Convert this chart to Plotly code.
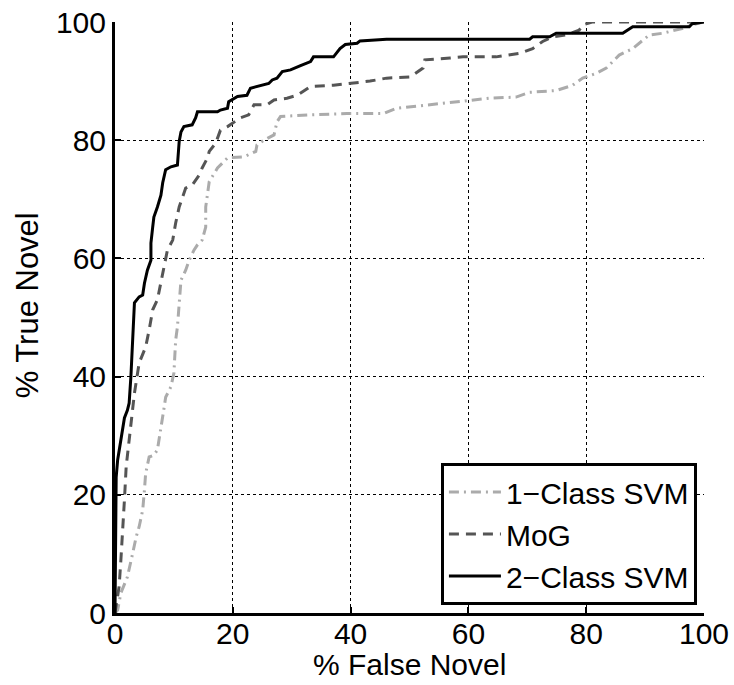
import plotly.graph_objects as go

# 1-Class SVM ROC
svm1_x = [0, 0.45, 1.0, 2.1, 3.0, 3.6, 4.1, 4.7, 5.0, 5.2, 5.8, 6.6, 7.2, 7.8, 8.3, 8.6, 9.5, 10.0, 10.3, 10.6,
          10.9, 11.2, 12.0, 12.6, 13.4, 14.0, 14.8, 15.4, 15.4, 16.0, 17.4, 19.1, 21.9, 23.9, 24.1, 25.3, 27.0, 27.5, 28.1, 33.2,
          39.4, 45.6, 47.8, 52.3, 55.7, 59.1, 63.6, 68.1, 70.4, 74.9, 77.7, 79.4, 81.7, 83.4, 85.6, 87.9, 90.7, 93.0, 96.3, 98.0, 100]
svm1_y = [0, 0.5, 3.4, 6.1, 10.1, 12.9, 14.6, 17.4, 20.8, 23.6, 26.4, 26.7, 27.6, 31, 34.5, 36.5, 38.3, 40.6, 46.2, 48.4,
          52.4, 56.3, 58, 59.7, 61.4, 62.3, 63.1, 65.3, 68.7, 73, 75.3, 77, 77.2, 78.1, 79.2, 80, 80.9, 83.1, 84, 84.3,
          84.5, 84.5, 85.4, 85.9, 86.2, 86.7, 87.1, 87.3, 88.1, 88.4, 89.3, 90.5, 91.3, 92.2, 94.4, 95.5, 97.8, 98.1, 98.9, 99.5, 100]

# MoG ROC
mog_x = [0, 0.7, 1.0, 1.3, 1.6, 1.9, 2.4, 3.0, 3.3, 4.1, 5.2, 5.8, 6.4, 7.2, 7.8, 8.3, 8.9, 9.8, 10.3, 10.9,
         12.0, 13.1, 14.3, 14.8, 15.7, 16.0, 17.1, 17.9, 19.1, 21.3, 22.7, 23.6, 25.8, 27.0, 29.2, 30.9, 33.2, 37.1, 39.9, 43.3,
         46.1, 50.1, 52.3, 52.6, 56.9, 59.1, 64.7, 68.7, 70.9, 72.6, 74.3, 76.6, 78.8, 79.4, 81.0, 100]
mog_y = [0, 4.5, 9, 13.5, 19.1, 24.8, 29.3, 34.3, 37.2, 42.3, 45, 47.9, 51.3, 53, 55.8, 58.5, 61.4, 63.1, 66, 68.7,
         71.9, 72.4, 74.1, 75.3, 77, 78.1, 79.5, 81.7, 82.3, 83.8, 84.3, 86, 86, 86.8, 87.1, 87.6, 89.1, 89.3, 89.6, 90,
         90.5, 90.7, 92.2, 93.6, 93.9, 94.1, 94.1, 94.7, 95.5, 96.7, 97.5, 97.8, 98.6, 99.5, 100, 100]

# 2-Class SVM ROC
svm2_x = [0, 0.2, 0.45, 1.6, 2.1, 2.4, 2.7, 3.0, 3.3, 4.1, 4.7, 5.0, 5.5, 6.1, 6.1, 6.4, 6.6, 7.2, 7.8, 8.1,
          8.6, 9.5, 10.6, 10.9, 11.2, 11.7, 13.1, 13.7, 14.0, 17.4, 17.9, 19.1, 19.3, 20.8, 22.4, 23.0, 24.7, 26.1, 26.7, 27.5,
          28.4, 29.8, 31.5, 33.2, 33.7, 37.1, 38.2, 39.1, 41.1, 41.6, 46.1, 70.4, 70.9, 73.8, 74.9, 86.2, 87.9, 97.5, 98.0, 100]
svm2_y = [0, 23, 25.9, 33, 34.3, 35.5, 40, 47.4, 52.5, 53.5, 53.8, 55.8, 58, 59.7, 62.6, 65.3, 67, 68.7, 70.7, 72.8,
          75, 75.5, 75.8, 79.8, 81.4, 82.3, 82.6, 83.8, 84.8, 84.8, 85.1, 85.4, 86.5, 87.4, 87.6, 88.8, 89.3, 89.6, 90.2, 90.5,
          91.6, 91.9, 92.6, 93.3, 94.1, 94.1, 95.5, 96.2, 96.4, 96.8, 97.1, 97.1, 97.5, 97.5, 98.1, 98.1, 99.2, 99.2, 99.7, 100]

tick_vals = [0, 20, 40, 60, 80, 100]
tick_text = ["0", "20", "40", "60", "80", "100"]

FONT = "Liberation Sans, Arial, Helvetica, sans-serif"

fig = go.Figure()
fig.add_trace(go.Scatter(x=svm1_x, y=svm1_y, mode="lines", name="1\u2212Class SVM",
                         line=dict(color="#ababab", width=3, dash="10px,5px,2px,5px")))
fig.add_trace(go.Scatter(x=mog_x, y=mog_y, mode="lines", name="MoG",
                         line=dict(color="#555555", width=3, dash="10px,7px")))
fig.add_trace(go.Scatter(x=svm2_x, y=svm2_y, mode="lines", name="2\u2212Class SVM",
                         line=dict(color="black", width=3)))

axis_common = dict(
    range=[0, 100], tickvals=tick_vals, ticktext=tick_text,
    showline=True, linecolor="black", linewidth=3,
    ticks="inside", ticklen=6, tickwidth=2, tickcolor="black",
    showgrid=True, gridcolor="black", gridwidth=1, griddash="dot",
    zeroline=False, automargin=False,
    tickfont=dict(family=FONT, size=30, color="black"),
)

fig.update_layout(
    width=734, height=685,
    margin=dict(l=115, r=30, t=22, b=72),
    paper_bgcolor="white", plot_bgcolor="white",
    font=dict(family=FONT, size=30, color="black"),
    xaxis=dict(**axis_common, ticklabelstandoff=-8),
    yaxis=dict(**axis_common),
    legend=dict(x=0.988, xanchor="right", y=0.0135, yanchor="bottom",
                bgcolor="white", bordercolor="black", borderwidth=3,
                itemwidth=52,
                font=dict(family=FONT, size=30, color="black"), tracegroupgap=0),
    annotations=[
        dict(text="% True Novel", xref="paper", yref="paper", x=-0.149, y=0.521,
             textangle=-90, showarrow=False, xanchor="center", yanchor="middle",
             font=dict(family=FONT, size=31, color="black")),
        dict(text="% False Novel", xref="paper", yref="paper", x=0.5, y=-0.118,
             showarrow=False, xanchor="center", yanchor="bottom",
             font=dict(family=FONT, size=30, color="black")),
    ],
)

fig.write_html("out.html")
